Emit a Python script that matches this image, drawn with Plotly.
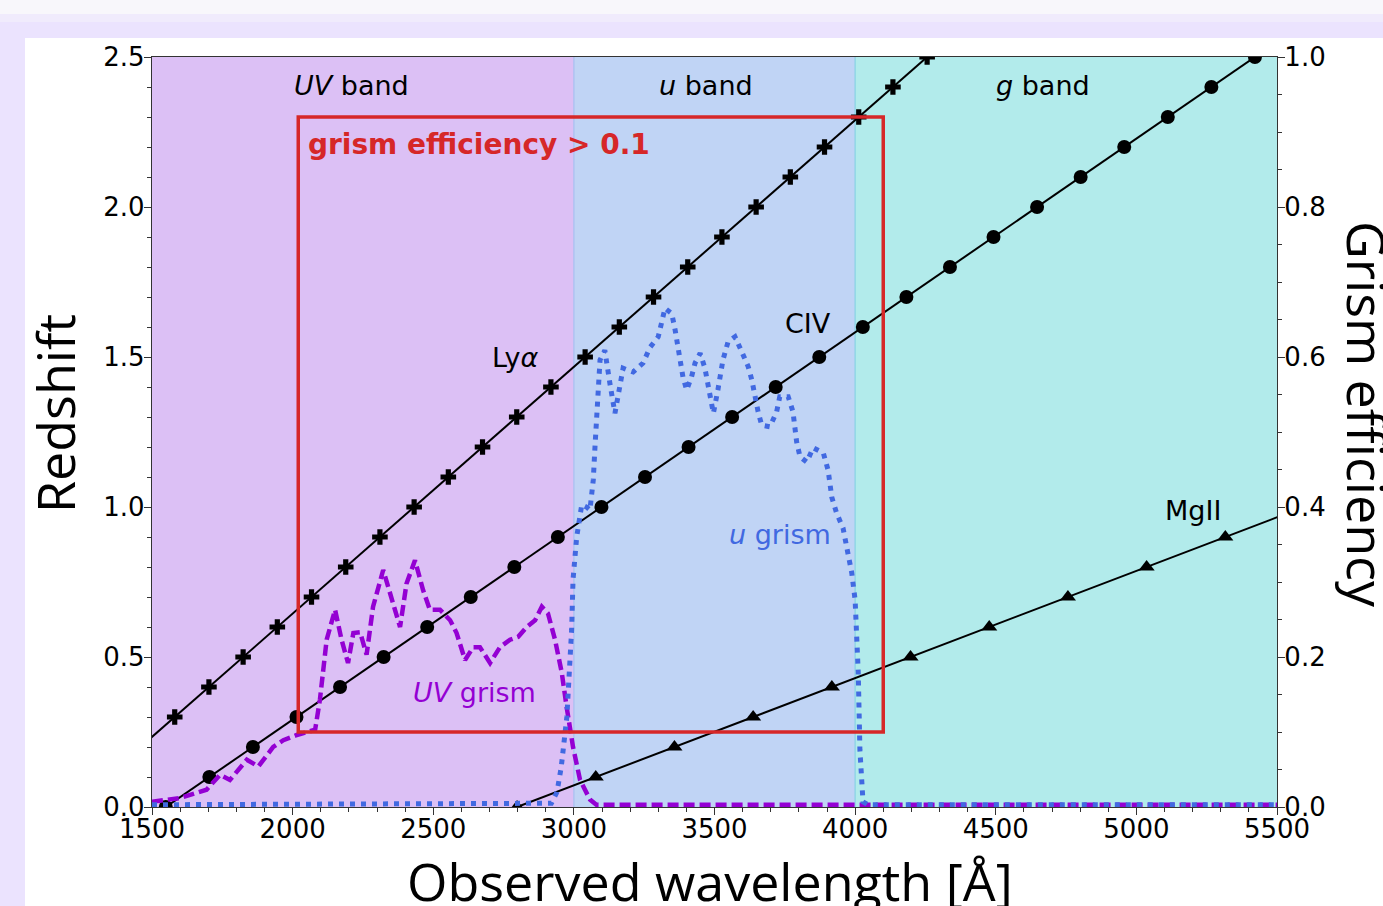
import plotly.graph_objects as go

# ---------------- data ----------------
# Redshift tracks of emission lines (marker every dz = 0.1)
lya_z = [0.2, 0.3, 0.4, 0.5, 0.6, 0.7, 0.8, 0.9, 1.0, 1.1, 1.2, 1.3, 1.4, 1.5,
         1.6, 1.7, 1.8, 1.9, 2.0, 2.1, 2.2, 2.3, 2.4, 2.5, 2.6]
lya_wl = [1459.2, 1580.8, 1702.4, 1824.0, 1945.6, 2067.2, 2188.8, 2310.4, 2432.0,
          2553.6, 2675.2, 2796.8, 2918.4, 3040.0, 3161.6, 3283.2, 3404.8, 3526.4,
          3648.0, 3769.6, 3891.2, 4012.8, 4134.4, 4256.0, 4377.6]

civ_z = [-0.1, 0.0, 0.1, 0.2, 0.3, 0.4, 0.5, 0.6, 0.7, 0.8, 0.9, 1.0, 1.1, 1.2,
         1.3, 1.4, 1.5, 1.6, 1.7, 1.8, 1.9, 2.0, 2.1, 2.2, 2.3, 2.4, 2.5, 2.6]
civ_wl = [1394.1, 1549.0, 1703.9, 1858.8, 2013.7, 2168.6, 2323.5, 2478.4, 2633.3,
          2788.2, 2943.1, 3098.0, 3252.9, 3407.8, 3562.7, 3717.6, 3872.5, 4027.4,
          4182.3, 4337.2, 4492.1, 4647.0, 4801.9, 4956.8, 5111.7, 5266.6, 5421.5,
          5576.4]

mgii_z = [0.0, 0.1, 0.2, 0.3, 0.4, 0.5, 0.6, 0.7, 0.8, 0.9, 1.0]
mgii_wl = [2798.0, 3077.8, 3357.6, 3637.4, 3917.2, 4197.0, 4476.8, 4756.6, 5036.4,
           5316.2, 5596.0]

# UV grism efficiency curve
uv_wl = [1500, 1600, 1694, 1742, 1777, 1837, 1878, 1931, 1967, 2015, 2080, 2097,
         2121, 2151, 2174, 2197, 2216, 2240, 2263, 2286, 2322, 2352, 2382, 2405,
         2435, 2464, 2488, 2524, 2560, 2583, 2613, 2642, 2666, 2702, 2737, 2773,
         2802, 2832, 2862, 2886, 2908, 2933, 2957, 2974, 2997, 3022, 3057, 3080,
         5500]
uv_eff = [0.007, 0.012, 0.023, 0.043, 0.036, 0.063, 0.054, 0.080, 0.089, 0.096,
          0.103, 0.143, 0.223, 0.263, 0.223, 0.192, 0.232, 0.233, 0.203, 0.267,
          0.316, 0.280, 0.240, 0.298, 0.329, 0.289, 0.263, 0.263, 0.249, 0.232,
          0.196, 0.213, 0.213, 0.192, 0.213, 0.223, 0.227, 0.240, 0.249, 0.267,
          0.258, 0.223, 0.179, 0.134, 0.080, 0.036, 0.010, 0.003, 0.003]

# u grism efficiency curve
u_wl = [1500, 2920, 2940, 2955, 2975, 2992, 2997, 3010, 3028, 3045, 3057, 3069,
        3075, 3081, 3086, 3093, 3110, 3121, 3128, 3146, 3157, 3175, 3211, 3246,
        3271, 3300, 3324, 3348, 3360, 3377, 3388, 3401, 3418, 3431, 3449, 3466,
        3484, 3496, 3512, 3530, 3548, 3573, 3597, 3620, 3633, 3644, 3655, 3668,
        3697, 3721, 3732, 3762, 3779, 3792, 3804, 3828, 3851, 3887, 3904, 3917,
        3934, 3957, 3975, 3988, 4000, 4005, 4011, 4017, 4023, 4028, 4045, 5500]
u_eff = [0.003, 0.005, 0.020, 0.053, 0.120, 0.236, 0.303, 0.360, 0.403, 0.400,
         0.396, 0.436, 0.480, 0.525, 0.556, 0.596, 0.609, 0.587, 0.565, 0.525,
         0.547, 0.585, 0.580, 0.592, 0.613, 0.627, 0.665, 0.658, 0.636, 0.596,
         0.573, 0.556, 0.573, 0.592, 0.605, 0.585, 0.545, 0.525, 0.556, 0.596,
         0.620, 0.627, 0.607, 0.587, 0.569, 0.547, 0.527, 0.509, 0.507, 0.527,
         0.547, 0.547, 0.527, 0.487, 0.467, 0.460, 0.479, 0.472, 0.449, 0.413,
         0.392, 0.372, 0.339, 0.312, 0.276, 0.236, 0.180, 0.076, 0.027, 0.007,
         0.003, 0.003]

# Filter bands
band_names = ["<i>UV</i> band", "<i>u</i> band", "<i>g</i> band"]
band_edges = [1500, 3000, 4000, 5500]
band_colors = ["#DCC0F5", "#C0D4F5", "#B2EBEB"]
band_edge_colors = ["#A8BEF0", "#86D2E4"]
band_label_x = [2211, 3470, 4668]

# Box of grism efficiency > 0.1
box_wl = [2020, 4100]
box_z = [0.25, 2.3]

# ---------------- figure ----------------
W, H = 1383, 906
L, R, T, B = 152, 1277, 57, 807


def px(xp):
    return (xp - L) / (R - L)


def py(yp):
    return 1 - (yp - T) / (B - T)


fig = go.Figure()

line_style = dict(color="black", width=2)
fig.add_trace(go.Scatter(x=lya_wl, y=lya_z, mode="lines+markers", name="Lyα",
                         line=line_style,
                         marker=dict(symbol="cross", size=13, color="black"),
                         showlegend=False))
fig.add_trace(go.Scatter(x=civ_wl, y=civ_z, mode="lines+markers", name="CIV",
                         line=line_style,
                         marker=dict(symbol="circle", size=14, color="black"),
                         showlegend=False))
fig.add_trace(go.Scatter(x=mgii_wl, y=mgii_z, mode="lines+markers", name="MgII",
                         line=line_style,
                         marker=dict(symbol="triangle-up", size=14, color="black"),
                         showlegend=False))
fig.add_trace(go.Scatter(x=uv_wl, y=uv_eff, mode="lines", yaxis="y2", name="UV grism",
                         line=dict(color="#9400D3", width=4.5, dash="11px,5px"),
                         showlegend=False))
fig.add_trace(go.Scatter(x=u_wl, y=u_eff, mode="lines", yaxis="y2", name="u grism",
                         line=dict(color="#4169E1", width=5, dash="5px,6px"),
                         showlegend=False))

shapes = []
# top light strip and white panel
shapes.append(dict(type="rect", xref="paper", yref="paper", layer="below",
                   x0=px(0), x1=px(W), y0=py(0), y1=py(14),
                   fillcolor="#F8F7FB", line=dict(width=0)))
shapes.append(dict(type="rect", xref="paper", yref="paper", layer="below",
                   x0=px(0), x1=px(W), y0=py(14), y1=py(22),
                   fillcolor="#F0EBFC", line=dict(width=0)))
shapes.append(dict(type="rect", xref="paper", yref="paper", layer="below",
                   x0=px(25), x1=px(W + 5), y0=py(38), y1=py(H + 5),
                   fillcolor="white", line=dict(width=0)))
for i in range(3):
    shapes.append(dict(type="rect", xref="x", yref="paper", layer="below",
                       x0=band_edges[i], x1=band_edges[i + 1], y0=0, y1=1,
                       fillcolor=band_colors[i], line=dict(width=0)))
for i in range(2):
    shapes.append(dict(type="line", xref="x", yref="paper", layer="below",
                       x0=band_edges[i + 1], x1=band_edges[i + 1], y0=0, y1=1,
                       line=dict(color=band_edge_colors[i], width=1.2)))
shapes.append(dict(type="rect", xref="x", yref="y", layer="above",
                   x0=box_wl[0], x1=box_wl[1], y0=box_z[0], y1=box_z[1],
                   line=dict(color="#D62728", width=3.5)))

txt = dict(family="DejaVu Sans", size=27, color="black")
title_font = dict(family="Open Sans", size=52, color="black")
ctr = dict(xanchor="center", yanchor="middle", showarrow=False)
ann = []
for i in range(3):
    ann.append(dict(x=band_label_x[i], y=py(86), xref="x", yref="paper",
                    text=band_names[i], font=txt, **ctr))
ann.append(dict(x=2049, y=2.207, xref="x", yref="y", xanchor="left", yanchor="middle",
                text="<b>grism efficiency &gt; 0.1</b>", showarrow=False,
                font=dict(family="DejaVu Sans", size=28, color="#D62728")))
ann.append(dict(x=2791, y=1.497, xref="x", yref="y", text="Ly<i>α</i>",
                font=txt, **ctr))
ann.append(dict(x=3832, y=1.613, xref="x", yref="y", text="CIV",
                font=txt, **ctr))
ann.append(dict(x=5201, y=0.99, xref="x", yref="y", text="MgII",
                font=txt, **ctr))
ann.append(dict(x=3733, y=0.907, xref="x", yref="y", text="<i>u</i> grism",
                font=dict(family="DejaVu Sans", size=27, color="#4169E1"), **ctr))
ann.append(dict(x=2645, y=0.383, xref="x", yref="y", text="<i>UV</i> grism",
                font=dict(family="DejaVu Sans", size=27, color="#9400D3"), **ctr))
# axis titles placed to match the reference
ann.append(dict(x=px(1368), y=py(414), xref="paper", yref="paper",
                text="Grism efficiency", textangle=90, font=title_font, **ctr))
ann.append(dict(x=px(54), y=py(414), xref="paper", yref="paper",
                text="Redshift", textangle=-90, font=title_font, **ctr))
ann.append(dict(x=px(710), y=py(880), xref="paper", yref="paper",
                text="Observed wavelength [Å]", font=title_font, **ctr))

tickfont = dict(family="DejaVu Sans", size=26, color="black")
axcol = "#333333"
fig.update_layout(
    width=W, height=H,
    margin=dict(l=L, r=W - R, t=T, b=H - B),
    paper_bgcolor="#EBE3FE",
    plot_bgcolor="white",
    shapes=shapes,
    annotations=ann,
    xaxis=dict(range=[1500, 5500], tick0=1500, dtick=500, ticks="outside",
               ticklen=7, tickwidth=1.3, tickcolor=axcol, ticklabelstandoff=-8,
               minor=dict(dtick=100, ticks="outside", ticklen=4, tickcolor=axcol),
               showline=True, linecolor=axcol, linewidth=1.3, mirror=True,
               showgrid=False, zeroline=False, tickfont=tickfont),
    yaxis=dict(range=[0, 2.5], dtick=0.5, tickformat=".1f", ticks="outside",
               ticklen=7, tickwidth=1.3, tickcolor=axcol, ticklabelstandoff=-6,
               minor=dict(dtick=0.1, ticks="outside", ticklen=4, tickcolor=axcol),
               showline=True, linecolor=axcol, linewidth=1.3,
               showgrid=False, zeroline=False, tickfont=tickfont),
    yaxis2=dict(range=[0, 1.0], dtick=0.2, tickformat=".1f", ticks="outside",
                overlaying="y", side="right", ticklabelstandoff=-6,
                ticklen=7, tickwidth=1.3, tickcolor=axcol,
                minor=dict(dtick=0.05, ticks="outside", ticklen=4, tickcolor=axcol),
                showline=True, linecolor=axcol, linewidth=1.3,
                showgrid=False, zeroline=False, tickfont=tickfont),
)

fig.write_html("out.html",
               config={"displayModeBar": False},
               post_script="document.body.style.margin='0px';"
                           "document.body.style.overflow='hidden';")
